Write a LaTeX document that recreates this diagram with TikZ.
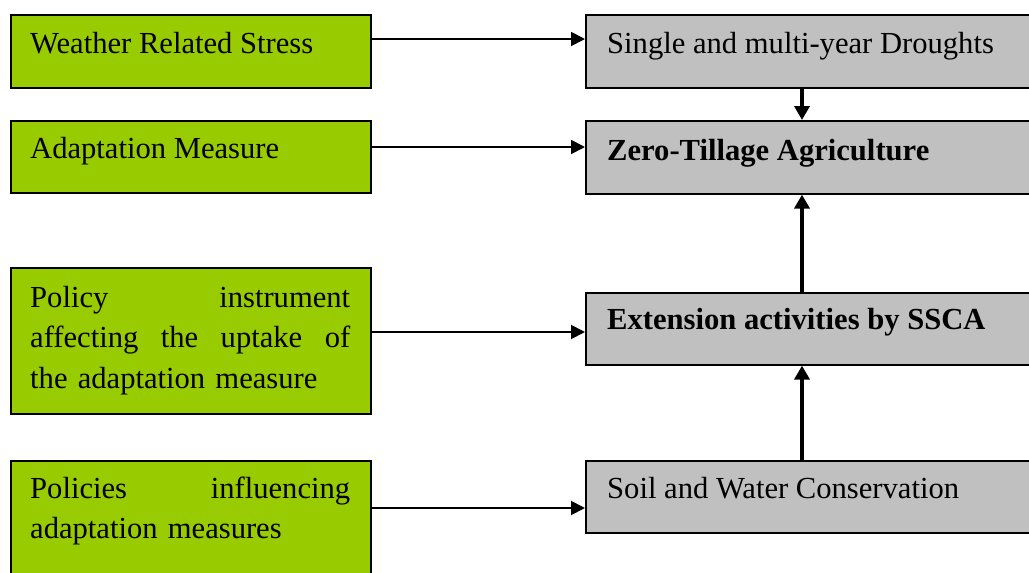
\documentclass[tikz,border=0pt]{standalone}
\usepackage{fontspec}
\setmainfont{Liberation Serif}
\usetikzlibrary{arrows.meta,calc}
\definecolor{boxgreen}{HTML}{99CC00}
\definecolor{boxgray}{HTML}{C0C0C0}
\tikzset{
  lbox/.style={draw=black, line width=1.6pt, fill=boxgreen, rectangle, inner sep=0pt, anchor=north west, minimum width=360pt},
  rbox/.style={draw=black, line width=1.6pt, fill=boxgray, rectangle, inner sep=0pt, anchor=north west, minimum width=475pt},
  txt/.style={inner sep=0pt, anchor=base west, font=\fontsize{30.6}{40.5}\selectfont},
  harrow/.style={line width=1.8pt, -{Triangle[length=14pt,width=14pt]}},
  varrow/.style={line width=4pt, -{Triangle[length=14pt,width=15pt]}}
}
\begin{document}
\begin{tikzpicture}[x=1pt,y=-1pt]
\useasboundingbox (0,0) rectangle (1029,573);
\clip (0,0) rectangle (1029,573);
\fill[white] (0,0) rectangle (1029,573);
% left boxes
\node[lbox, minimum height=73pt] (b1) at (10,14) {};
\node[lbox, minimum height=72pt] (b2) at (10,120) {};
\node[lbox, minimum height=146pt] (b3) at (10,267) {};
\node[lbox, minimum height=150pt] (b4) at (10,460) {};
% right boxes
\node[rbox, minimum height=73pt] (r1) at (585,14) {};
\node[rbox, minimum height=73pt] (r2) at (585,120) {};
\node[rbox, minimum height=72pt] (r3) at (585,292) {};
\node[rbox, minimum height=72pt] (r4) at (585,460) {};
% texts
\node[txt] (t1) at (30,53) {Weather Related Stress};
\node[txt] (t2) at (30,158) {Adaptation Measure};
\node[txt, text width=320pt, align=left] (t3) at (30,307) {\makebox[320pt][l]{Policy\hfill instrument}\\\makebox[320pt][l]{affecting\hfill the\hfill uptake\hfill of}\\the adaptation measure};
\node[txt, text width=320pt, align=left] (t4) at (30,498) {\makebox[320pt][l]{Policies\hfill influencing}\\adaptation measures};
\node[txt] (s1) at (607,53) {Single and multi-year Droughts};
\node[txt] (s2) at (607,160) {\textbf{Zero-Tillage Agriculture}};
\node[txt] (s3) at (607,329) {\textbf{Extension activities by SSCA}};
\node[txt] (s4) at (607,498) {Soil and Water Conservation};
% horizontal connectors
\coordinate (h1) at ($(r1.north west)+(0,25)$);
\coordinate (h2) at ($(r2.north west)+(0,27)$);
\coordinate (h3) at ($(r3.north west)+(0,40)$);
\coordinate (h4) at ($(r4.north west)+(0,48)$);
\draw[harrow] (b1.east |- h1) -- (h1);
\draw[harrow] (b2.east |- h2) -- (h2);
\draw[harrow] (b3.east |- h3) -- (h3);
\draw[harrow] (b4.east |- h4) -- (h4);
% vertical connectors
\coordinate (vx) at (802,0);
\draw[varrow] (r1.south -| vx) -- (r2.north -| vx);
\draw[varrow] (r3.north -| vx) -- (r2.south -| vx);
\draw[varrow] (r4.north -| vx) -- (r3.south -| vx);
\end{tikzpicture}
\end{document}
